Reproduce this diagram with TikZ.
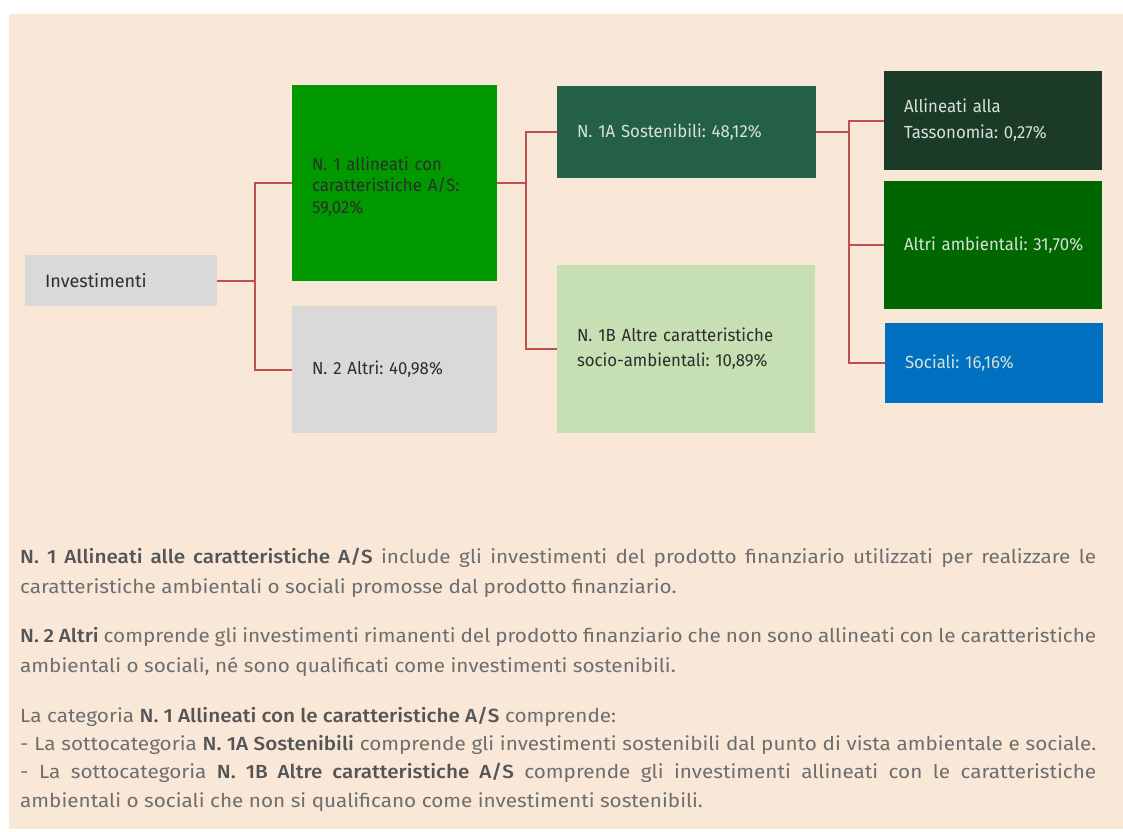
\documentclass[tikz,border=0pt]{standalone}
\usepackage{fontspec}
\setmainfont{Fira Sans}[FakeStretch=1.09, BoldFont={Fira Sans Medium}]
\newfontfamily\boxfont{Fira Sans}[FakeStretch=0.96]
\newfontfamily\invfont{Fira Sans}
\definecolor{bgpeach}{RGB}{249,232,216}
\definecolor{conncol}{RGB}{192,80,77}
\definecolor{greyfill}{RGB}{217,217,217}
\definecolor{greenA}{RGB}{0,153,0}
\definecolor{darkgreen}{RGB}{36,96,70}
\definecolor{lightgreen}{RGB}{198,224,180}
\definecolor{taxcol}{RGB}{27,58,40}
\definecolor{envcol}{RGB}{0,102,0}
\definecolor{socialcol}{RGB}{0,112,192}
\definecolor{bodytext}{RGB}{110,110,110}
\definecolor{boldtext}{RGB}{85,85,85}
\definecolor{darktext}{RGB}{45,45,45}
\definecolor{lighttext}{RGB}{215,225,215}
\begin{document}
\frenchspacing
\begin{tikzpicture}[x=1pt,y=-1pt,
  catbox/.style={rectangle, inner xsep=20pt, inner ysep=0pt, align=left, anchor=center,
     font=\frenchspacing\boxfont\fontsize{17.5}{24}\selectfont},
  conn/.style={draw=conncol, line width=2pt},
  bodyline/.style={anchor=base west, inner sep=0pt, text=bodytext,
     font=\frenchspacing\fontsize{19}{24}\selectfont}]
\useasboundingbox (0,0) rectangle (1123,831);
\fill[white] (0,0) rectangle (1123,831);
\fill[bgpeach] (9,14) rectangle (1123,829);
% boxes
\node[catbox, fill=greyfill, text=darktext, minimum width=192pt, minimum height=51pt, text width=152pt,
  font=\invfont\fontsize{18}{24}\selectfont] (inv) at (121,280.5) {Investimenti};
\node[catbox, fill=greenA, text=darktext, minimum width=205pt, minimum height=196pt, text width=165pt,
  font=\frenchspacing\boxfont\fontsize{17.5}{21.5}\selectfont] (n1) at (394.5,183) {\rule{0pt}{20pt}\mbox{N. 1 allineati con}\\\mbox{caratteristiche A/S:}\\59,02\%};
\node[catbox, fill=greyfill, text=darktext, minimum width=205pt, minimum height=127pt, text width=165pt] (n2) at (394.5,369.5) {\mbox{N. 2 Altri: 40,98\%}};
\node[catbox, fill=darkgreen, text=lighttext, minimum width=259pt, minimum height=92pt, text width=219pt] (n1a) at (686.5,132) {\mbox{N. 1A Sostenibili: 48,12\%}};
\node[catbox, fill=lightgreen, text=darktext, minimum width=258pt, minimum height=168pt, text width=218pt,
  font=\frenchspacing\boxfont\fontsize{17.5}{25}\selectfont] (n1b) at (686,349) {\mbox{N. 1B Altre caratteristiche}\\\mbox{socio-ambientali: 10,89\%}};
\node[catbox, fill=taxcol, text=lighttext, minimum width=218pt, minimum height=99pt, text width=178pt,
  font=\frenchspacing\boxfont\fontsize{17.5}{26}\selectfont] (tax) at (993,120.5) {\mbox{Allineati alla}\\\mbox{Tassonomia: 0,27\%}};
\node[catbox, fill=envcol, text=lighttext, minimum width=218pt, minimum height=128pt, text width=178pt] (env) at (993,245) {\mbox{Altri ambientali: 31,70\%}};
\node[catbox, fill=socialcol, text=lighttext, minimum width=218pt, minimum height=80pt, text width=178pt] (soc) at (994,363) {\mbox{Sociali: 16,16\%}};
% connectors
\coordinate (j1) at (255,280.5);
\coordinate (j2) at (526,183);
\coordinate (j3) at (849,132);
\draw[conn] (inv.east) -- (j1);
\draw[conn] (j1) |- (n1.west);
\draw[conn] (j1) |- (n2.west);
\draw[conn] (n1.east) -- (j2);
\draw[conn] (j2) |- (n1a.west);
\draw[conn] (j2) |- (n1b.west);
\draw[conn] (n1a.east) -- (j3);
\draw[conn] (j3) |- (tax.west);
\draw[conn] (j3) |- (env.west);
\draw[conn] (j3) |- (soc.west);
% body text
\node[bodyline] (l1) at (20,563) {\makebox[1076pt][s]{\textcolor{boldtext}{\bfseries N. 1 Allineati alle caratteristiche A/S} include gli investimenti del prodotto finanziario utilizzati per realizzare le}};
\node[bodyline] (l2) at (20,593) {caratteristiche ambientali o sociali promosse dal prodotto finanziario.};
\node[bodyline] (l3) at (20,642) {\makebox[1076pt][s]{\textcolor{boldtext}{\bfseries N. 2 Altri} comprende gli investimenti rimanenti del prodotto finanziario che non sono allineati con le caratteristiche}};
\node[bodyline] (l4) at (20,672) {ambientali o sociali, né sono qualificati come investimenti sostenibili.};
\node[bodyline] (l5) at (20,722) {La categoria \textcolor{boldtext}{\bfseries N. 1 Allineati con le caratteristiche A/S} comprende:};
\node[bodyline] (l6) at (20,750) {\makebox[1076pt][s]{- La sottocategoria \textcolor{boldtext}{\bfseries N. 1A Sostenibili} comprende gli investimenti sostenibili dal punto di vista ambientale e sociale.}};
\node[bodyline] (l7) at (20,778) {\makebox[1076pt][s]{- La sottocategoria \textcolor{boldtext}{\bfseries N. 1B Altre caratteristiche A/S} comprende gli investimenti allineati con le caratteristiche}};
\node[bodyline] (l8) at (20,807) {ambientali o sociali che non si qualificano come investimenti sostenibili.};
\end{tikzpicture}
\end{document}
